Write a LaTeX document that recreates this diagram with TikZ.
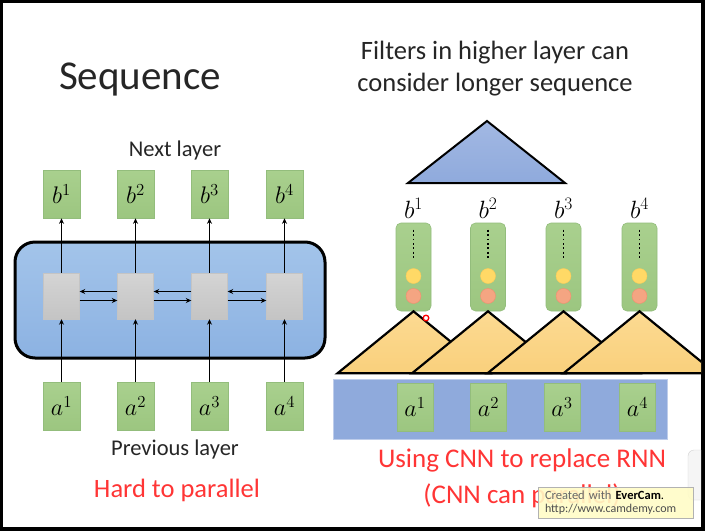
\RequirePackage{fix-cm}
\documentclass[tikz,border=0pt]{standalone}
\usepackage[no-math]{fontspec}
\setmainfont{Carlito}
\usetikzlibrary{arrows.meta}
\definecolor{gfill}{HTML}{A9D08E}
\definecolor{gfilldark}{HTML}{9CC680}
\definecolor{gline}{HTML}{93BD7C}
\definecolor{rnnblue}{HTML}{A3C4EA}
\definecolor{rnnbluedark}{HTML}{8CB2E2}
\definecolor{cellgray}{HTML}{D4D4D4}
\definecolor{cellgraydark}{HTML}{C4C4C4}
\definecolor{lav}{HTML}{8FAADC}
\definecolor{lavlight}{HTML}{A2B8E3}
\definecolor{tri}{HTML}{F9D07C}
\definecolor{trilight}{HTML}{FCDA92}
\definecolor{redtext}{HTML}{FF3535}
\definecolor{dotyellow}{HTML}{FFD966}
\definecolor{dotsalmon}{HTML}{F4A582}
\definecolor{txt}{HTML}{262626}
\tikzset{
  gbox/.style={draw=gline, line width=0.6pt, top color=gfill, bottom color=gfilldark,
    minimum width=37pt, minimum height=48pt, inner sep=0pt,
    font=\fontsize{24}{24}\selectfont},
  cell/.style={top color=cellgray, bottom color=cellgraydark, draw=cellgraydark,
    minimum width=36pt, minimum height=46pt, inner sep=0pt},
  col/.style={draw=gline, line width=0.6pt, top color=gfill, bottom color=gfilldark,
    rounded corners=5pt, minimum width=35pt, minimum height=88pt, inner sep=0pt},
  arr/.style={line width=1.8pt, -{Stealth[length=5.5pt,width=5pt]}},
  lbl/.style={font=\fontsize{25}{25}\selectfont, inner sep=0pt},
  blk/.style={text=txt, inner sep=0pt},
  filt/.style={draw=black, line width=2.2pt, line join=miter, top color=trilight, bottom color=tri},
  ydot/.style={circle, fill=dotyellow, draw=dotyellow!85!orange, minimum size=15pt, inner sep=0pt},
  sdot/.style={circle, fill=dotsalmon, draw=dotsalmon!85!red, minimum size=15pt, inner sep=0pt},
}
\begin{document}
\begin{tikzpicture}[x=1pt,y=-1pt]
\useasboundingbox (0,0) rectangle (705,531);
\fill[black] (0,0) rectangle (705,531);
\fill[white] (3,3) rectangle (701,527);
\begin{scope}
\clip (3,3) rectangle (701,527);

% ---------- left: RNN ----------
\node[blk, font=\fontsize{41}{41}\selectfont] (seq) at (140,79) {Sequence};
\node[blk, font=\fontsize{22.5}{22.5}\selectfont] (next) at (175,150) {Next layer};

\draw[line width=3pt, rounded corners=20pt, top color=rnnblue, bottom color=rnnbluedark]
  (15,242) rectangle (325,358);

\foreach \i/\x in {1/61.5,2/135.5,3/209.5,4/284.5}{
  \node[gbox] (b\i) at (\x,194) {$b^{\i}$};
  \node[cell] (g\i) at (\x,296) {};
  \node[gbox] (a\i) at (\x,406) {$a^{\i}$};
  \draw[arr] (a\i) -- (g\i);
  \draw[arr] (g\i) -- (b\i);
}
\foreach \i/\j in {1/2,2/3,3/4}{
  \draw[arr] ([yshift=4.5pt]g\j.west) -- ([yshift=4.5pt]g\i.east);
  \draw[arr] ([yshift=-4.5pt]g\i.east) -- ([yshift=-4.5pt]g\j.west);
}

\node[blk, font=\fontsize{22.5}{22.5}\selectfont] (prev) at (175,449) {Previous layer};
\node[text=redtext, inner sep=0pt, font=\fontsize{26.5}{26.5}\selectfont] (hard) at (177,490) {Hard to parallel};

% ---------- right: CNN ----------
\node[blk, align=center, font=\fontsize{26.5}{32}\selectfont] (filters) at (495,69)
  {Filters in higher layer can\\consider longer sequence};

\draw[line width=2pt, line join=miter, top color=lavlight, bottom color=lav]
  (487,121) -- (565,183) -- (408,183) -- cycle;

\foreach \i/\x in {1/413.5,2/488,3/563.5,4/639.5}{
  \node[lbl] (lb\i) at (\x,208) {$b^{\i}$};
  \node[col] (c\i) at (\x,267) {};
  \draw[line width=1.9pt, dash pattern=on 1.9pt off 2.5pt] ([yshift=-7pt]c\i.north) -- ++(0,30);
  \node[ydot] (y\i) at (\x,276) {};
  \node[sdot] (s\i) at (\x,296) {};
}
\foreach \i in {1,2,3,4}{
  \draw[filt] (c\i.south) -- ++(76,62) -- ++(-152,0) -- cycle;
}

\draw[draw=lavlight!70!white, line width=1pt, fill=lav] (333,379) rectangle (667,439);
\foreach \i/\x in {1/415,2/488.5,3/562,4/637.5}{
  \node[gbox, minimum width=36pt] (ra\i) at (\x,407) {$a^{\i}$};
}

\node[text=redtext, inner sep=0pt, align=center, font=\fontsize{27}{36}\selectfont] (using) at (522,478)
  {Using CNN to replace RNN\\(CNN can parallel)};

% cursor mark
\draw[red, line width=1.3pt, fill=white] (426,318) circle (2.8pt);

% scroll element at the right edge
\draw[gray!35, fill=gray!8, rounded corners=6pt] (688,450) rectangle (712,500);

% EverCam stamp
\node[draw=gray!60, fill=yellow!22, fill opacity=0.9, text opacity=1, minimum width=155pt,
  minimum height=31pt, inner xsep=7pt, inner ysep=0pt, text width=141pt, align=left,
  font=\fontsize{12.5}{13}\selectfont] (stamp) at (615.5,502.5)
  {\textcolor{gray!80!black}{Created with} \textbf{EverCam}.\\[0.5pt]
   \textcolor{gray!60!black}{\fontsize{12}{12}\selectfont http://www.camdemy.com}};
\end{scope}
\end{tikzpicture}
\end{document}
